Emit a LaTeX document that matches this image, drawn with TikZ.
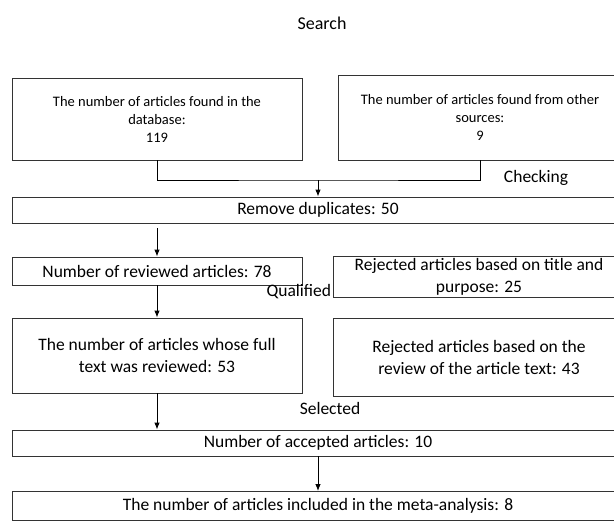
\documentclass[tikz,border=0pt]{standalone}
\usepackage{fontspec}
\setmainfont{Carlito}
\usetikzlibrary{arrows.meta}
\tikzset{
	box/.style={draw=black!80, line width=0.9pt, align=center, inner sep=2pt, font=\fontsize{17.5}{22}\selectfont},
	smallbox/.style={box, font=\fontsize{14.5}{18}\selectfont},
	lbl/.style={font=\fontsize{17.5}{20}\selectfont, inner sep=1pt}
}
\begin{document}
\begin{tikzpicture}[x=1pt, y=-1pt, >={Latex[length=7pt,width=5.5pt]}, line width=0.9pt]
		\useasboundingbox (0,0) rectangle (614,525);
		\clip (0,0) rectangle (614,525);
		\node[lbl, font=\fontsize{18}{20}\selectfont] (search) at (322,23) {Search};
		\node[smallbox, minimum width=290pt, minimum height=82pt] (dbase) at (157,119) {The number of articles found in the\\database:\\119};
		\node[smallbox, minimum width=284pt, minimum height=85pt] (other) at (480,117.5) {The number of articles found from other\\sources:\\9};
		\coordinate (join) at (318,180);
		\node[lbl] (check) at (536,178) {Checking};
		\node[box, minimum width=612pt, minimum height=26pt] (dupl) at (318,210) {Remove duplicates: 50};
		\node[box, minimum width=290pt, minimum height=28pt] (rev) at (157,271) {Number of reviewed articles: 78};
		\node[box, minimum width=292pt, minimum height=40pt] (title) at (479,277) {Rejected articles based on title and\\purpose: 25};
		\node[lbl, anchor=base east] (qual) at ([yshift=1pt]title.south west) {Qualified};
		\node[box, minimum width=290pt, minimum height=75pt] (full) at (157,355.5) {The number of articles whose full\\text was reviewed: 53};
		\node[box, minimum width=292pt, minimum height=78pt] (reject) at (479,357) {Rejected articles based on the\\review of the article text: 43};
		\node[lbl] (select) at (330,408) {Selected};
		\node[box, minimum width=612pt, minimum height=26pt] (accept) at (318,443) {Number of accepted articles: 10};
		\node[box, minimum width=612pt, minimum height=29pt] (final) at (318,506) {The number of articles included in the meta-analysis: 8};
		\draw (dbase.south) |- (join) -| (other.south);
		\draw[->] (join) -- (dupl.north);
		\draw[->] ([yshift=-5pt]dupl.south -| rev.north) -- (rev.north);
		\draw[->] (rev) -- (full);
		\draw[->] (full) -- (full |- accept.north);
		\draw[->] (accept) -- (final);
\end{tikzpicture}
\end{document}
